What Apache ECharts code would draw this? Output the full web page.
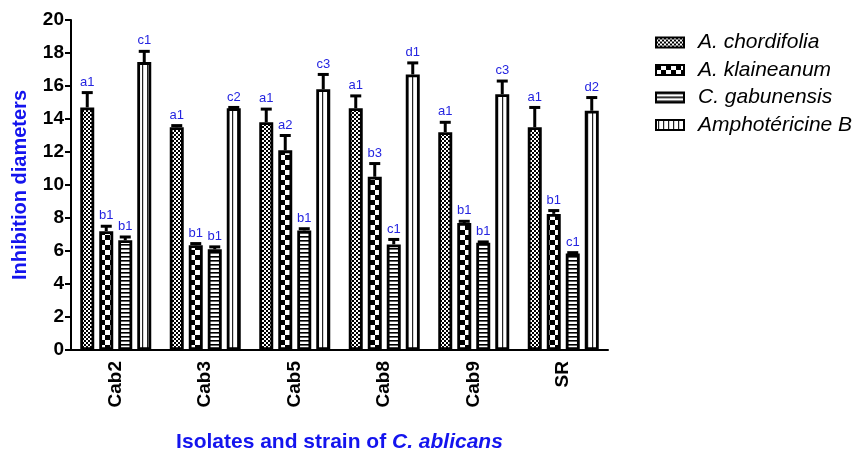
<!DOCTYPE html>
<html>
<head>
<meta charset="utf-8">
<script src="https://cdn.jsdelivr.net/npm/echarts@6/dist/echarts.min.js"></script>
<style>
  html, body { margin: 0; padding: 0; background: #fff; }
  #chart { width: 864px; height: 458px; }
</style>
</head>
<body>
<div id="chart"></div>
<script>
// Isolates / strain on the category axis
const categories = ['Cab2', 'Cab3', 'Cab5', 'Cab8', 'Cab9', 'SR'];
const yTicks = [0, 2, 4, 6, 8, 10, 12, 14, 16, 18, 20];

// Mean inhibition diameters and their errors (SEM)
const chordifolia = [14.7, 13.5, 13.8, 14.65, 13.2, 13.5];
const chordifoliaErr = [0.9, 0.1, 0.8, 0.75, 0.6, 1.2];
const klaineanum = [7.2, 6.35, 12.1, 10.5, 7.7, 8.25];
const klaineanumErr = [0.3, 0.1, 0.9, 0.8, 0.1, 0.2];
const gabunensis = [6.65, 6.1, 7.25, 6.4, 6.5, 5.85];
const gabunensisErr = [0.2, 0.15, 0.1, 0.3, 0.05, 0.05];
const amphotericin = [17.45, 14.65, 15.8, 16.7, 15.5, 14.5];
const amphotericinErr = [0.65, 0.05, 0.9, 0.7, 0.8, 0.8];

// Statistical group letters
const chordifoliaLetters = ['a1', 'a1', 'a1', 'a1', 'a1', 'a1'];
const klaineanumLetters = ['b1', 'b1', 'a2', 'b3', 'b1', 'b1'];
const gabunensisLetters = ['b1', 'b1', 'b1', 'c1', 'b1', 'c1'];
const amphotericinLetters = ['c1', 'c2', 'c3', 'd1', 'c3', 'd2'];

const seriesNames = ['A. chordifolia', 'A. klaineanum', 'C. gabunensis', 'Amphotéricine B'];

// Hatch fills
function pattern(kind) {
  const c = document.createElement('canvas');
  const ctx = c.getContext('2d');
  if (kind === 'fineCheck') {
    c.width = 4; c.height = 4;
    ctx.fillStyle = '#fff'; ctx.fillRect(0, 0, 4, 4);
    ctx.fillStyle = '#000';
    ctx.fillRect(0, 0, 2, 2); ctx.fillRect(2, 2, 2, 2);
  } else if (kind === 'coarseCheck') {
    c.width = 10; c.height = 10;
    ctx.fillStyle = '#fff'; ctx.fillRect(0, 0, 10, 10);
    ctx.fillStyle = '#000';
    ctx.fillRect(0, 0, 5, 5); ctx.fillRect(5, 5, 5, 5);
  } else if (kind === 'hLines') {
    c.width = 4; c.height = 4;
    ctx.fillStyle = '#fff'; ctx.fillRect(0, 0, 4, 4);
    ctx.fillStyle = '#000'; ctx.fillRect(0, 0, 4, 1.6);
  } else {
    c.width = 5; c.height = 5;
    ctx.fillStyle = '#fff'; ctx.fillRect(0, 0, 5, 5);
    ctx.fillStyle = '#222'; ctx.fillRect(2, 0, 1.2, 5);
  }
  return { image: c, repeat: 'repeat' };
}

const fills = [pattern('fineCheck'), pattern('coarseCheck'), pattern('hLines'), pattern('vLines')];
const values = [chordifolia, klaineanum, gabunensis, amphotericin];
const errors = [chordifoliaErr, klaineanumErr, gabunensisErr, amphotericinErr];
const letters = [chordifoliaLetters, klaineanumLetters, gabunensisLetters, amphotericinLetters];

const BAR_W = 14;
const BAR_GAP = 5;
const labelBlue = '#2424e0';

const barSeries = seriesNames.map((name, i) => ({
  name: name,
  type: 'bar',
  barWidth: BAR_W,
  barGap: (BAR_GAP / BAR_W * 100) + '%',
  data: values[i],
  itemStyle: { color: fills[i], borderColor: '#000', borderWidth: 2.8 },
  emphasis: { disabled: true },
  z: 2
}));

// Upper error whiskers with cap and group letter
const errSeries = seriesNames.map((name, i) => ({
  name: name + ' err',
  type: 'custom',
  z: 3,
  silent: true,
  data: values[i].map((v, k) => [k, v, errors[i][k]]),
  renderItem: function (params, api) {
    const k = api.value(0);
    const v = api.value(1);
    const e = api.value(2);
    const offset = (i - 1.5) * (BAR_W + BAR_GAP);
    const base = api.coord([k, v]);
    const top = api.coord([k, v + e]);
    const x = base[0] + offset;
    return {
      type: 'group',
      children: [
        { type: 'line', shape: { x1: x, y1: base[1], x2: x, y2: top[1] },
          style: { stroke: '#000', lineWidth: 3 } },
        { type: 'line', shape: { x1: x - 5.5, y1: top[1], x2: x + 5.5, y2: top[1] },
          style: { stroke: '#000', lineWidth: 3 } },
        { type: 'text', x: x, y: top[1] - 4,
          style: { text: letters[i][params.dataIndex], fill: labelBlue,
                   font: '13px "Liberation Sans", Arial, sans-serif',
                   textAlign: 'center', textVerticalAlign: 'bottom' } }
      ]
    };
  }
}));

const chart = echarts.init(document.getElementById('chart'), null, { renderer: 'canvas' });
chart.setOption({
  backgroundColor: '#fff',
  animation: false,
  textStyle: { fontFamily: '"Liberation Sans", Arial, sans-serif' },
  legend: {
    data: seriesNames,
    orient: 'vertical',
    left: 650,
    top: 27,
    icon: 'rect',
    itemWidth: 28,
    itemHeight: 10,
    itemGap: 6.5,
    textStyle: { fontSize: 21, fontStyle: 'italic', color: '#000', padding: [0, 0, 0, 9] }
  },
  grid: { left: 71, right: 256, top: 20, bottom: 108, outerBoundsMode: 'none', containLabel: false },
  xAxis: {
    type: 'category',
    data: categories,
    axisLine: { lineStyle: { color: '#000', width: 2 } },
    axisTick: { alignWithLabel: true, length: 6, lineStyle: { color: '#000', width: 2 } },
    axisLabel: { rotate: 90, fontSize: 19, fontWeight: 'bold', color: '#000', margin: 11 },
    name: '{n|Isolates and strain of }{i|C. ablicans}',
    nameLocation: 'middle',
    nameGap: 82,
    nameTextStyle: {
      rich: {
        n: { fontSize: 21, fontWeight: 'bold', color: '#1414ee' },
        i: { fontSize: 21, fontWeight: 'bold', fontStyle: 'italic', color: '#1414ee' }
      }
    }
  },
  yAxis: {
    type: 'value',
    min: yTicks[0],
    max: yTicks[yTicks.length - 1],
    interval: 2,
    splitLine: { show: false },
    axisLine: { show: true, lineStyle: { color: '#000', width: 2 } },
    axisTick: { show: true, length: 6, lineStyle: { color: '#000', width: 2 } },
    axisLabel: { fontSize: 19, fontWeight: 'bold', color: '#000', margin: 7 },
    name: 'Inhibition diameters',
    nameLocation: 'middle',
    nameGap: 41,
    nameTextStyle: { fontSize: 20, fontWeight: 'bold', color: '#1414ee' }
  },
  series: barSeries.concat(errSeries)
});
</script>
</body>
</html>
